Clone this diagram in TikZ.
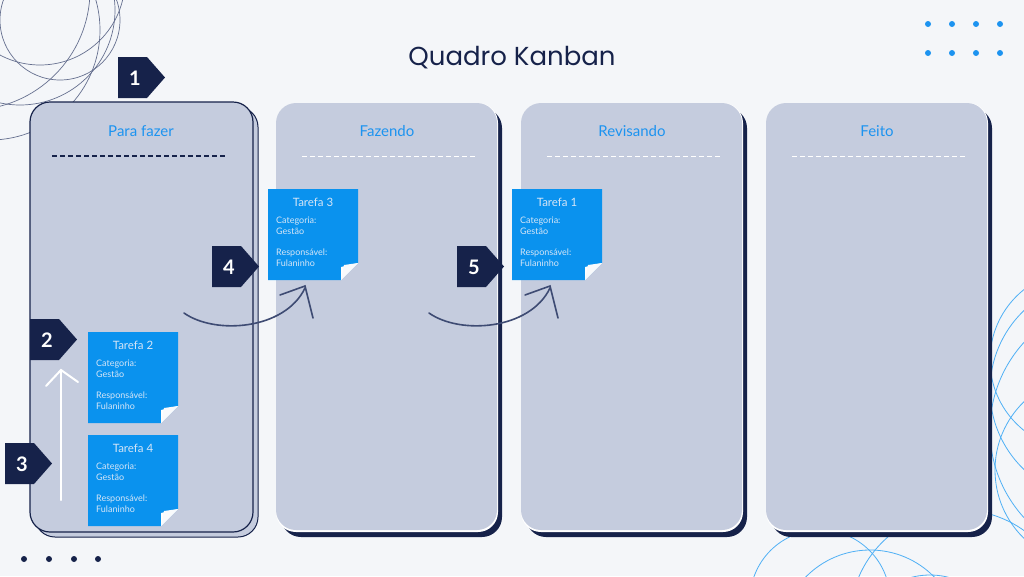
\documentclass[tikz,border=0pt]{standalone}
\usepackage{fontspec}
\setmainfont{Lato}
\newfontfamily\titlefont{Poppins}
\definecolor{bg}{HTML}{F4F6F9}
\definecolor{navy}{HTML}{16224A}
\definecolor{colfill}{HTML}{C5CCDE}
\definecolor{cardblue}{HTML}{0A92EE}
\definecolor{headblue}{HTML}{1C93F0}
\definecolor{cardtxt}{HTML}{D6E6F7}
\definecolor{linec}{HTML}{3E4B73}
\definecolor{deco}{HTML}{4FB0F5}
\begin{document}
\begin{tikzpicture}[x=1pt,y=-1pt,
 col/.style={fill=colfill,rounded corners=20pt},
 head/.style={text=headblue,font=\fontsize{15}{15}\selectfont},
 badge/.style={fill=navy},
 btxt/.style={text=white,font=\bfseries\fontsize{20}{20}\selectfont},
 cardtitle/.style={text=cardtxt,font=\fontsize{11.5}{12}\selectfont},
 cardbody/.style={text=cardtxt,font=\fontsize{9}{10.5}\selectfont,align=left,anchor=north west,inner sep=0pt}]
\fill[bg] (0,0) rectangle (1024,576);
\useasboundingbox (0,0) rectangle (1024,576);
% decorations
\begin{scope}
\clip (0,0) rectangle (1024,576);
\foreach \cx/\cy/\r in {20/10/95,-10/30/110,40/-20/85,-30/-10/120,60/20/60}
  \draw[linec!80,line width=0.7pt] (\cx,\cy) circle (\r);
\foreach \cx/\cy/\r in {1100/390/110,1090/470/95,1120/430/130,1080/360/90}
  \draw[deco,line width=0.8pt] (\cx,\cy) circle (\r);
\foreach \cx/\cy/\r in {870/640/90,930/650/75,960/620/110,820/600/70}
  \draw[deco,line width=0.8pt] (\cx,\cy) circle (\r);
\end{scope}
\foreach \x in {928,952,976,1000}{\fill[headblue] (\x,24) circle (3); \fill[headblue] (\x,53) circle (3);}
\foreach \x in {24,49,74,98}\fill[navy] (\x,559) circle (3);
\node[text=navy,font=\titlefont\fontsize{26}{26}\selectfont] (title) at (512,58) {Quadro Kanban};
% columns
\draw[navy,fill=colfill,rounded corners=20pt,line width=1pt] (35,107) rectangle (258,537);
\draw[navy,fill=colfill,rounded corners=20pt,line width=1.2pt] (30,102) rectangle (253,532);
\foreach \xa/\n in {276/c2,521/c3,766/c4}{
  \fill[navy,rounded corners=20pt] (\xa+5,108) rectangle (\xa+226,537);
  \fill[white,rounded corners=20pt] (\xa,103) rectangle (\xa+222,532);
  \fill[colfill,rounded corners=20pt] (\xa,103) rectangle (\xa+221,530);
}
\node[head] (h1) at (141,131) {Para fazer};
\node[head] (h2) at (387,131) {Fazendo};
\node[head] (h3) at (632,131) {Revisando};
\node[head] (h4) at (877,131) {Feito};
\draw[navy,dashed,dash pattern=on 5pt off 3pt,line width=1.2pt] (52,156) -- (226,156);
\foreach \xa in {302,547,792}\draw[white,dash pattern=on 5pt off 3pt,line width=1pt] (\xa,156) -- (\xa+175,156);
% cards
\foreach \n/\xa/\ya/\t in {t3/268/189/Tarefa 3,t1/512/189/Tarefa 1,t2/88/332/Tarefa 2,t4/88/435/Tarefa 4}{
  \fill[cardblue] (\xa,\ya) -- (\xa+90,\ya) -- (\xa+90,\ya+74) -- (\xa+73,\ya+91) -- (\xa,\ya+91) -- cycle;
  \fill[white] (\xa+90,\ya+74) -- (\xa+73,\ya+91) -- (\xa+73,\ya+78) -- cycle;
  \fill[white!90!colfill] (\xa+90,\ya+74) -- (\xa+73,\ya+91) -- (\xa+76,\ya+76) -- cycle;
  \node[cardtitle] (\n) at (\xa+45,\ya+13) {\t};
  \node[cardbody] at (\xa+8,\ya+28) {Categoria:\\Gestão};
  \node[cardbody] at (\xa+8,\ya+60) {Responsável:\\Fulaninho};
}
% badges
\foreach \n/\xa/\ya/\t in {b1/118/57/1,b4/212/246/4,b5/457/246/5,b2/30/319/2,b3/5/443/3}{
  \fill[badge] (\xa,\ya) -- (\xa+29,\ya) -- (\xa+47,\ya+20.5) -- (\xa+29,\ya+41) -- (\xa,\ya+41) -- cycle;
  \node[btxt] (\n) at (\xa+17,\ya+21) {\t};
}
% arrows
\coordinate (wa) at (61,500); \coordinate (wb) at (61,370);
\draw[white,line width=2pt,line cap=round] (wa) -- (wb);
\draw[white,line width=2pt,line cap=round] (46,386) -- (wb) -- (78,382);
\foreach \d in {0,245}{
  \draw[linec,line width=1.6pt,line cap=round] (184+\d,313) .. controls (215+\d,335) and (285+\d,330) .. (305+\d,288);
  \draw[linec,line width=1.6pt,line cap=round] (280+\d,295) -- (305+\d,286) -- (313+\d,318);
}
\end{tikzpicture}
\end{document}
